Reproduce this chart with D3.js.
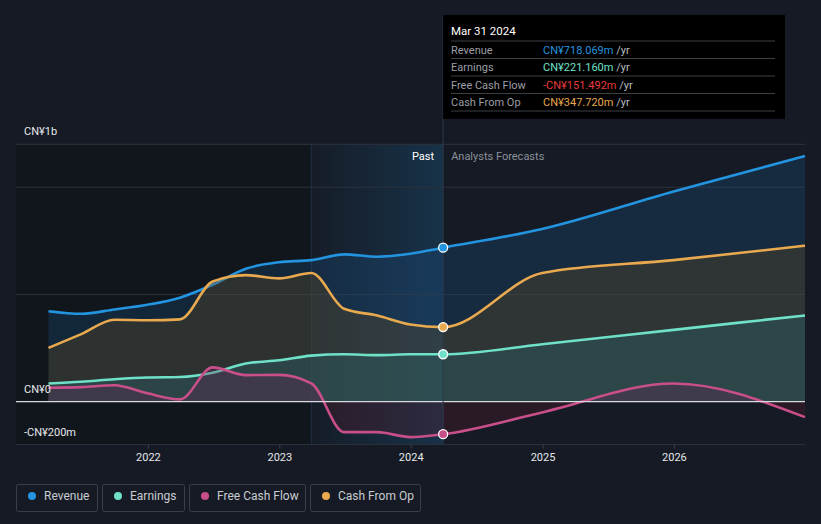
<!DOCTYPE html>
<html>
<head>
<meta charset="utf-8">
<script src="https://cdn.jsdelivr.net/npm/d3@7"></script>
<style>
  html, body { margin: 0; padding: 0; background: #151a24; }
  svg { display: block; font-family: Roboto, "Noto Sans", sans-serif; }
</style>
</head>
<body>
<svg id="chart" width="821" height="524"></svg>
<script>
// ---------- data (millions CN¥) ----------
const dates = ["2021-03-31","2021-06-30","2021-09-30","2021-12-31","2022-03-31","2022-06-30","2022-09-30","2022-12-31","2023-03-31","2023-06-30","2023-09-30","2023-12-31","2024-03-31","2024-12-31","2025-12-31","2026-12-31"];
const revenue  = [422, 410, 430, 452, 485, 545, 620, 650, 660, 687, 676, 690, 718.069, 805, 980, 1145];
const earnings = [85, 93, 105, 113, 115, 135, 178, 193, 215, 221, 217, 221, 221.16, 268, 335, 402];
const fcf      = [65, 68, 77, 39, 11, 160, 124, 125, 85, -142, -142, -165, -151.492, -50, 85, -72];
const cashOp   = [251, 315, 382, 380, 384, 560, 590, 575, 600, 433, 402, 360, 347.72, 600, 660, 727];
const yearTicks = ["2022","2023","2024","2025","2026"];
// label text, with the grid value it sits above
const yTickLabels = [{v: 1200, t: "CN¥1b"}, {v: 0, t: "CN¥0"}, {v: -200, t: "-CN¥200m"}];
const gridValues = [1200, 1000, 500, -200];
const pastStart = "2023-03-31";
const nowDate = "2024-03-31";
const legendNames = ["Revenue", "Earnings", "Free Cash Flow", "Cash From Op"];
const tooltipTitle = "Mar 31 2024";
const tooltipValues = ["CN¥718.069m", "CN¥221.160m", "-CN¥151.492m", "CN¥347.720m"];

const parse = d3.timeParse("%Y-%m-%d");
const svg = d3.select("#chart");

const x = d3.scaleTime()
  .domain([parse("2021-03-31"), parse("2026-12-31")])
  .range([48.5, 805]);
const y = d3.scaleLinear().domain([-200, 1200]).range([444.6, 144.3]);
const left = 16, right = 805;

const series = [
  {name: "Revenue", vals: revenue, color: "#2394df", fill: "#1c4f81", fo: 0.3},
  {name: "Cash From Op", vals: cashOp, color: "#e8a94f", fill: "#6a4c1c", fo: 0.3},
  {name: "Earnings", vals: earnings, color: "#6fe1c8", fill: "#2b6c71", fo: 0.32},
  {name: "Free Cash Flow", vals: fcf, color: "#c94f8a", fill: "url(#fcfGrad)", fo: 0.3}
];
const legendColors = {"Revenue": "#2394df", "Earnings": "#6fe1c8", "Free Cash Flow": "#c94f8a", "Cash From Op": "#e8a94f"};
const tooltipColors = ["#2394df", "#6fe1c8", "#e8393c", "#e8a94f"];

const defs = svg.append("defs");
const pg = defs.append("linearGradient").attr("id", "pastGrad")
  .attr("x1", 0).attr("x2", 1).attr("y1", 0).attr("y2", 0);
pg.append("stop").attr("offset", "0%").attr("stop-color", "#2394df").attr("stop-opacity", 0.02);
pg.append("stop").attr("offset", "100%").attr("stop-color", "#2394df").attr("stop-opacity", 0.2);

const fg = defs.append("linearGradient").attr("id", "fcfGrad")
  .attr("gradientUnits", "userSpaceOnUse")
  .attr("x1", 0).attr("x2", 0).attr("y1", y(200)).attr("y2", y(-200));
fg.append("stop").attr("offset", "0%").attr("stop-color", "#6a2058");
fg.append("stop").attr("offset", "50%").attr("stop-color", "#6a2058");
fg.append("stop").attr("offset", "50%").attr("stop-color", "#5a1a2a");
fg.append("stop").attr("offset", "100%").attr("stop-color", "#5a1a2a");

// past darker region
svg.append("rect").attr("x", left).attr("y", y(1200))
  .attr("width", x(parse(pastStart)) - left).attr("height", y(-200) - y(1200))
  .attr("fill", "#0e1117").attr("opacity", 0.45);
// highlighted last year
svg.append("rect").attr("x", x(parse(pastStart))).attr("y", y(1200))
  .attr("width", x(parse(nowDate)) - x(parse(pastStart))).attr("height", y(-200) - y(1200))
  .attr("fill", "url(#pastGrad)");
svg.append("line").attr("x1", x(parse(pastStart))).attr("x2", x(parse(pastStart)))
  .attr("y1", y(1200)).attr("y2", y(-200)).attr("stroke", "#223041").attr("stroke-width", 1);

// grid lines
svg.append("g").selectAll("line").data(gridValues).join("line")
  .attr("x1", left).attr("x2", right)
  .attr("y1", d => y(d)).attr("y2", d => y(d))
  .attr("stroke", "#2d323c").attr("stroke-width", 1);

// x axis ticks
const xAxis = d3.axisBottom(x)
  .tickValues(yearTicks.map(t => parse(t + "-01-01")))
  .tickFormat(d3.timeFormat("%Y"))
  .tickSize(4).tickPadding(5);
const xg = svg.append("g").attr("transform", `translate(0,${y(-200)})`).call(xAxis);
xg.select(".domain").remove();
xg.selectAll(".tick line").attr("stroke", "#3a3f4a");
xg.selectAll(".tick text").attr("fill", "#e6e8eb").attr("font-size", 11)
  .attr("font-family", "Roboto, sans-serif");

// series
const dts = dates.map(parse);
series.forEach(s => {
  const data = s.vals.map((v, i) => ({d: dts[i], v}));
  const area = d3.area().x(p => x(p.d)).y0(y(0)).y1(p => y(p.v)).curve(d3.curveMonotoneX);
  const line = d3.line().x(p => x(p.d)).y(p => y(p.v)).curve(d3.curveMonotoneX);
  svg.append("path").datum(data).attr("d", area)
    .attr("fill", s.fill).attr("fill-opacity", s.fo);
  svg.append("path").datum(data).attr("d", line)
    .attr("fill", "none").attr("stroke", s.color).attr("stroke-width", 2.6);
});

// zero line
svg.append("line").attr("x1", left).attr("x2", right).attr("y1", y(0)).attr("y2", y(0))
  .attr("stroke", "#d8dade").attr("stroke-width", 1.3);

// now line
svg.append("line").attr("x1", x(parse(nowDate))).attr("x2", x(parse(nowDate)))
  .attr("y1", 15).attr("y2", y(-200)).attr("stroke", "#2b3a4c").attr("stroke-width", 1);

// markers
const nowIdx = dates.indexOf(nowDate);
series.forEach(s => {
  svg.append("circle").attr("cx", x(dts[nowIdx])).attr("cy", y(s.vals[nowIdx]))
    .attr("r", 4.5).attr("fill", s.color).attr("stroke", "#ffffff").attr("stroke-width", 1.3);
});

// y labels
svg.append("g").selectAll("text").data(yTickLabels).join("text")
  .attr("x", 24).attr("y", d => y(d.v) - 9)
  .attr("fill", "#e6e8eb").attr("font-size", 11).text(d => d.t);

// Past / Forecast labels
svg.append("text").attr("x", x(parse(nowDate)) - 9).attr("y", 160).attr("text-anchor", "end")
  .attr("fill", "#ffffff").attr("font-size", 11).text("Past");
svg.append("text").attr("x", x(parse(nowDate)) + 8).attr("y", 160)
  .attr("fill", "#8b9099").attr("font-size", 11).text("Analysts Forecasts");

// tooltip
const tx = x(parse(nowDate));
svg.append("rect").attr("x", tx).attr("y", 15).attr("width", 785 - tx).attr("height", 104)
  .attr("fill", "#000000");
svg.append("text").attr("x", 451).attr("y", 35).attr("fill", "#ffffff")
  .attr("font-size", 11.5).text(tooltipTitle);
const rowY = [49.5, 67, 84.5, 102];
const sepY = [41, 58.5, 76, 93.5, 111];
svg.append("g").selectAll("line").data(sepY).join("line")
  .attr("x1", 451).attr("x2", 775).attr("y1", d => d).attr("y2", d => d)
  .attr("stroke", "#3c3f44").attr("stroke-width", 1);
const ttLabels = ["Revenue", "Earnings", "Free Cash Flow", "Cash From Op"];
ttLabels.forEach((l, i) => {
  svg.append("text").attr("x", 451).attr("y", rowY[i] + 4).attr("fill", "#9a9ea5")
    .attr("font-size", 11).text(l);
  const t = svg.append("text").attr("x", 543).attr("y", rowY[i] + 4).attr("font-size", 11);
  t.append("tspan").attr("fill", tooltipColors[i]).text(tooltipValues[i]);
  t.append("tspan").attr("fill", "#b8bcc2").text(" /yr");
});

// legend
const legendBoxes = [[16, 81], [102, 82], [189, 116], [310, 110]];
legendNames.forEach((n, i) => {
  const [bx, bw] = legendBoxes[i];
  const g = svg.append("g");
  g.append("rect").attr("x", bx + 0.5).attr("y", 484.5).attr("width", bw).attr("height", 27)
    .attr("rx", 2).attr("fill", "none").attr("stroke", "#3a3f4a");
  g.append("circle").attr("cx", bx + 16).attr("cy", 496).attr("r", 4).attr("fill", legendColors[n]);
  g.append("text").attr("x", bx + 28).attr("y", 500).attr("fill", "#c9ccd1")
    .attr("font-size", 12).text(n);
});
</script>
</body>
</html>
